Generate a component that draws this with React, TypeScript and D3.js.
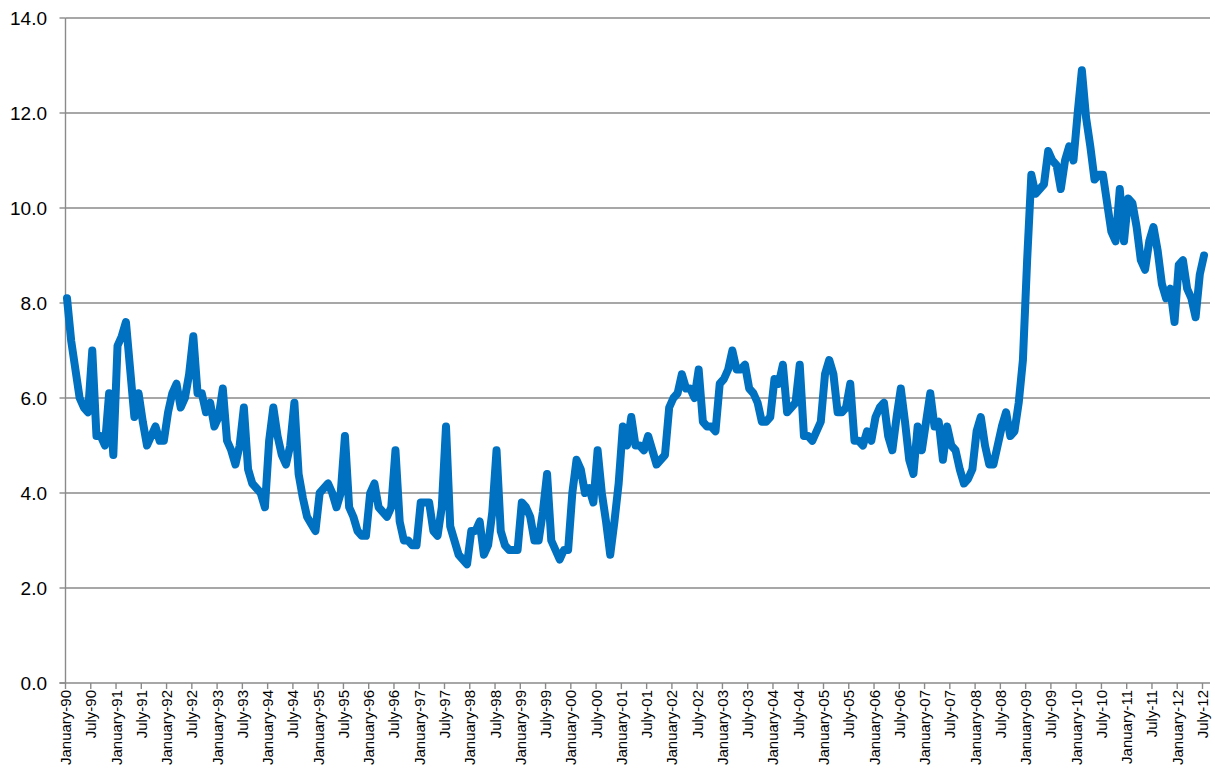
import React, { useEffect, useRef } from "react";
import * as d3 from "d3";

// Monthly values, January 1990 – July 2012
const y1990 = [8.1, 7.2, 6.6, 6.0, 5.8, 5.7, 7.0, 5.2, 5.2, 5.0, 6.1, 4.8];
const y1991 = [7.1, 7.3, 7.6, 6.6, 5.6, 6.1, 5.5, 5.0, 5.2, 5.4, 5.1, 5.1];
const y1992 = [5.7, 6.1, 6.3, 5.8, 6.0, 6.5, 7.3, 6.1, 6.1, 5.7, 5.9, 5.4];
const y1993 = [5.6, 6.2, 5.1, 4.9, 4.6, 5.0, 5.8, 4.5, 4.2, 4.1, 4.0, 3.7];
const y1994 = [5.1, 5.8, 5.2, 4.8, 4.6, 5.0, 5.9, 4.4, 3.9, 3.5, 3.35, 3.2];
const y1995 = [4.0, 4.1, 4.2, 4.0, 3.7, 4.0, 5.2, 3.7, 3.5, 3.2, 3.1, 3.1];
const y1996 = [4.0, 4.2, 3.7, 3.6, 3.5, 3.7, 4.9, 3.4, 3.0, 3.0, 2.9, 2.9];
const y1997 = [3.8, 3.8, 3.8, 3.2, 3.1, 3.7, 5.4, 3.3, 3.0, 2.7, 2.6, 2.5];
const y1998 = [3.2, 3.2, 3.4, 2.7, 2.9, 3.6, 4.9, 3.2, 2.9, 2.8, 2.8, 2.8];
const y1999 = [3.8, 3.7, 3.5, 3.0, 3.0, 3.6, 4.4, 3.0, 2.8, 2.6, 2.8, 2.8];
const y2000 = [4.0, 4.7, 4.5, 4.0, 4.1, 3.8, 4.9, 4.0, 3.4, 2.7, 3.4, 4.2];
const y2001 = [5.4, 5.0, 5.6, 5.0, 5.0, 4.9, 5.2, 4.9, 4.6, 4.7, 4.8, 5.8];
const y2002 = [6.0, 6.1, 6.5, 6.2, 6.2, 6.0, 6.6, 5.5, 5.4, 5.4, 5.3, 6.3];
const y2003 = [6.4, 6.6, 7.0, 6.6, 6.6, 6.7, 6.2, 6.1, 5.9, 5.5, 5.5, 5.6];
const y2004 = [6.4, 6.3, 6.7, 5.7, 5.8, 5.9, 6.7, 5.2, 5.2, 5.1, 5.3, 5.5];
const y2005 = [6.5, 6.8, 6.5, 5.7, 5.7, 5.8, 6.3, 5.1, 5.1, 5.0, 5.3, 5.1];
const y2006 = [5.6, 5.8, 5.9, 5.2, 4.9, 5.6, 6.2, 5.5, 4.7, 4.4, 5.4, 4.9];
const y2007 = [5.5, 6.1, 5.4, 5.5, 4.7, 5.4, 5.0, 4.9, 4.5, 4.2, 4.3, 4.5];
const y2008 = [5.3, 5.6, 5.0, 4.6, 4.6, 5.0, 5.4, 5.7, 5.2, 5.3, 5.9, 6.8];
const y2009 = [8.9, 10.7, 10.3, 10.4, 10.5, 11.2, 11.0, 10.9, 10.4, 11.0, 11.3, 11.0];
const y2010 = [12.0, 12.9, 11.9, 11.3, 10.6, 10.7, 10.7, 10.1, 9.5, 9.3, 10.4, 9.3];
const y2011 = [10.2, 10.1, 9.6, 8.9, 8.7, 9.3, 9.6, 9.1, 8.4, 8.1, 8.3, 7.6];
const y2012 = [8.8, 8.9, 8.3, 8.1, 7.7, 8.6, 9.0];

const values: number[] = [
  ...y1990, ...y1991, ...y1992, ...y1993, ...y1994, ...y1995, ...y1996, ...y1997,
  ...y1998, ...y1999, ...y2000, ...y2001, ...y2002, ...y2003, ...y2004, ...y2005,
  ...y2006, ...y2007, ...y2008, ...y2009, ...y2010, ...y2011, ...y2012,
];

// Tick labels every six months
const labelMonths = ["January", "July"];
const labelYears = [
  "90", "91", "92", "93", "94", "95", "96", "97", "98", "99", "00", "01",
  "02", "03", "04", "05", "06", "07", "08", "09", "10", "11", "12",
];
const yTicks = [0, 2, 4, 6, 8, 10, 12, 14];

const W = 1215;
const H = 773;

export default function App() {
  const ref = useRef<SVGSVGElement | null>(null);

  useEffect(() => {
    const svg = d3.select(ref.current);
    svg.selectAll("*").remove();

    const left = 65.5;
    const right = 1210;
    const top = 18;
    const bottom = 683;
    const n = values.length;

    const x = d3.scaleLinear().domain([0, n - 1]).range([67, 1204]);
    const y = d3.scaleLinear().domain([0, 14]).range([bottom, top]);

    const font = "'Liberation Sans', Arial, sans-serif";

    // gridlines
    svg
      .append("g")
      .selectAll("line")
      .data(yTicks.filter((t) => t > 0))
      .join("line")
      .attr("x1", left)
      .attr("x2", right)
      .attr("y1", (d) => y(d))
      .attr("y2", (d) => y(d))
      .attr("stroke", "#8a8a8a")
      .attr("stroke-width", 1.4);

    // axes lines
    svg
      .append("line")
      .attr("x1", left)
      .attr("x2", left)
      .attr("y1", top)
      .attr("y2", bottom)
      .attr("stroke", "#8a8a8a")
      .attr("stroke-width", 1.4);
    svg
      .append("line")
      .attr("x1", left - 6)
      .attr("x2", right)
      .attr("y1", bottom)
      .attr("y2", bottom)
      .attr("stroke", "#8a8a8a")
      .attr("stroke-width", 1.4);

    // y ticks & labels
    const yg = svg.append("g");
    yg.selectAll("line")
      .data(yTicks)
      .join("line")
      .attr("x1", left - 6)
      .attr("x2", left)
      .attr("y1", (d) => y(d))
      .attr("y2", (d) => y(d))
      .attr("stroke", "#8a8a8a")
      .attr("stroke-width", 1.4);
    yg.selectAll("text")
      .data(yTicks)
      .join("text")
      .attr("x", 47)
      .attr("y", (d) => y(d))
      .attr("dy", "0.36em")
      .attr("text-anchor", "end")
      .attr("font-family", font)
      .attr("font-size", 19)
      .attr("fill", "#000")
      .text((d) => d.toFixed(1));

    // x ticks & labels every 6 months
    const tickIdx: number[] = [];
    for (let i = 0; i < n; i += 6) tickIdx.push(i);
    const xLabel = (i: number) =>
      `${labelMonths[(i / 6) % 2]}-${labelYears[Math.floor(i / 12)]}`;

    const xg = svg.append("g");
    xg.selectAll("line")
      .data(tickIdx)
      .join("line")
      .attr("x1", (d) => x(d) - 1.5)
      .attr("x2", (d) => x(d) - 1.5)
      .attr("y1", bottom)
      .attr("y2", bottom + 6)
      .attr("stroke", "#8a8a8a")
      .attr("stroke-width", 1.4);
    xg.selectAll("text")
      .data(tickIdx)
      .join("text")
      .attr("transform", (d) => `translate(${x(d) + 4},${bottom + 7}) rotate(-90)`)
      .attr("text-anchor", "end")
      .attr("font-family", font)
      .attr("font-size", 15)
      .attr("fill", "#000")
      .text((d) => xLabel(d));

    // series line
    const line = d3
      .line<number>()
      .x((_, i) => x(i))
      .y((d) => y(d));

    svg
      .append("path")
      .datum(values)
      .attr("d", line)
      .attr("fill", "none")
      .attr("stroke", "#0070C0")
      .attr("stroke-width", 8)
      .attr("stroke-linejoin", "round")
      .attr("stroke-linecap", "round");
  }, []);

  return (
    <svg
      ref={ref}
      width={W}
      height={H}
      style={{ position: "absolute", left: 0, top: 0, background: "#fff" }}
    />
  );
}
